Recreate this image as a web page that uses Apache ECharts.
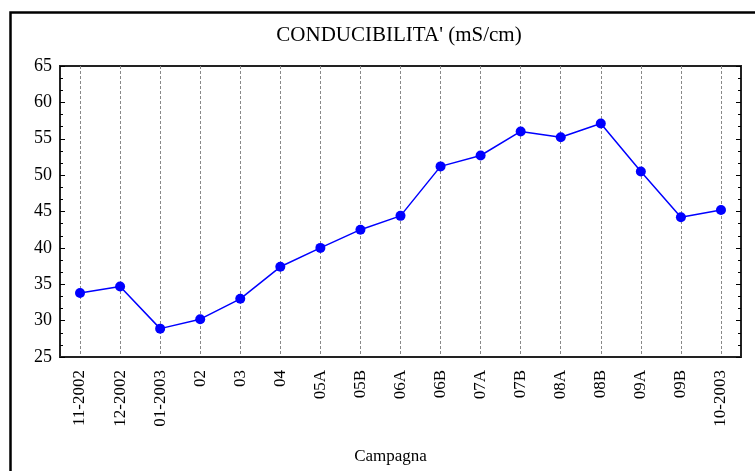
<!DOCTYPE html>
<html>
<head>
<meta charset="utf-8">
<style>
  html, body { margin: 0; padding: 0; background: #fff; }
  #chart { width: 755px; height: 471px; }
</style>
<script src="https://cdn.jsdelivr.net/npm/echarts@6/dist/echarts.min.js"></script>
</head>
<body>
<div id="chart"></div>
<script>
// categorie (campagne)
var campagne = ['11-2002', '12-2002', '01-2003', '02', '03', '04', '05A', '05B', '06A',
    '06B', '07A', '07B', '08A', '08B', '09A', '09B', '10-2003'];
// conducibilita' (mS/cm)
var conducibilita = [33.8, 34.7, 28.9, 30.2, 33.0, 37.4, 40.0, 42.5, 44.4,
    51.2, 52.7, 56.0, 55.2, 57.1, 50.5, 44.2, 45.2];
// scala asse y
var yMin = 25, yMax = 65, yStep = 5;

var font = '"Liberation Serif", "Times New Roman", serif';

var myChart = echarts.init(document.getElementById('chart'));
var option = {
    animation: false,
    backgroundColor: '#fff',
    title: {
        text: "CONDUCIBILITA' (mS/cm)",
        left: 394,
        textAlign: 'center',
        top: 20,
        textStyle: { fontFamily: font, fontSize: 21, fontWeight: 'normal', color: '#000' }
    },
    // cornice esterna
    graphic: [{
        type: 'rect',
        left: 8, top: 10,
        shape: { width: 800, height: 500 },
        style: { fill: 'none', stroke: '#000', lineWidth: 2.5 },
        silent: true
    }],
    grid: {
        left: 60, right: 14, top: 66, bottom: 114,
        show: true, borderColor: '#222', borderWidth: 2, backgroundColor: 'transparent'
    },
    xAxis: {
        type: 'category',
        data: campagne,
        boundaryGap: true,
        name: 'Campagna',
        nameLocation: 'middle',
        nameGap: 91,
        nameTextStyle: { fontFamily: font, fontSize: 17, color: '#000', padding: [0, 20, 0, 0] },
        axisLine: { lineStyle: { color: '#222', width: 2 } },
        axisTick: { show: false, alignWithLabel: true },
        axisLabel: {
            rotate: 90, margin: 13, interval: 0,
            fontFamily: font, fontSize: 17, color: '#000'
        },
        splitLine: {
            show: true, interval: 0, alignWithLabel: true,
            lineStyle: { color: '#888', type: [3, 2], width: 1 }
        }
    },
    yAxis: [{
        type: 'value',
        min: yMin, max: yMax, interval: yStep,
        axisLine: { show: true, lineStyle: { color: '#222', width: 2 } },
        axisTick: { show: true, inside: true, length: 5, lineStyle: { color: '#000' } },
        minorTick: { show: true, splitNumber: 3, length: 3, lineStyle: { color: '#000' } },
        axisLabel: { margin: 8, fontFamily: font, fontSize: 18, color: '#000' },
        splitLine: { show: false }
    }, {
        type: 'value',
        position: 'right',
        min: yMin, max: yMax, interval: yStep,
        axisLine: { show: true, lineStyle: { color: '#222', width: 2 } },
        axisTick: { show: true, inside: true, length: 5, lineStyle: { color: '#000' } },
        minorTick: { show: true, splitNumber: 3, length: 3, lineStyle: { color: '#000' } },
        axisLabel: { show: false },
        splitLine: { show: false }
    }],
    series: [{
        type: 'line',
        data: conducibilita,
        symbol: 'circle',
        symbolSize: 10,
        itemStyle: { color: '#0000ff' },
        lineStyle: { color: '#0000ff', width: 1.5 }
    }]
};
myChart.setOption(option);
</script>
</body>
</html>
